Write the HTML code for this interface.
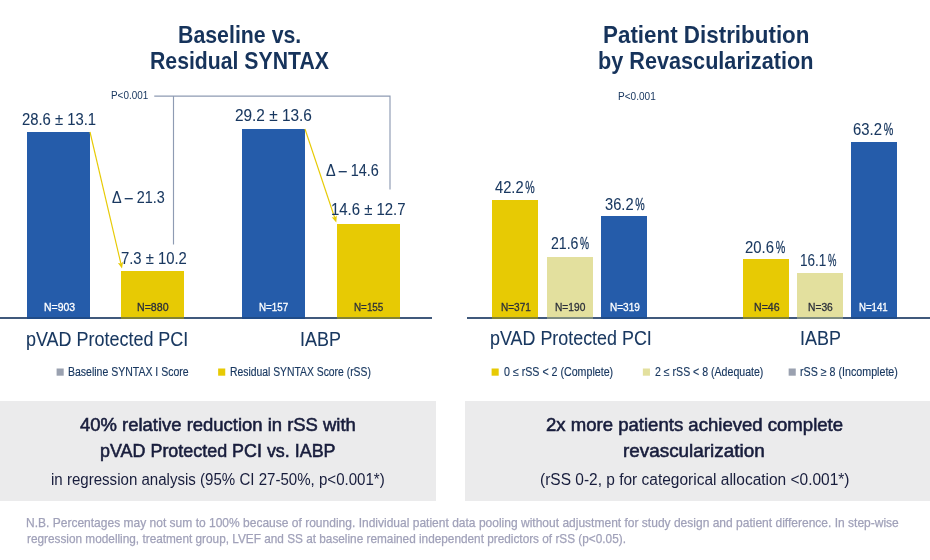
<!DOCTYPE html>
<html lang="en">
<head>
<meta charset="utf-8">
<title>Baseline vs. Residual SYNTAX / Patient Distribution by Revascularization</title>
<style>
html,body{margin:0;padding:0;background:#fff;}
body{width:930px;height:560px;position:relative;overflow:hidden;font-family:"Liberation Sans",Arial,sans-serif;}
.t{position:absolute;white-space:nowrap;line-height:1.117;transform-origin:0 0;margin:0;padding:0;display:block;}
.r{position:absolute;}
.lines{position:absolute;left:0;top:0;}
section,header,footer,figure,ul,li,p,h2{margin:0;padding:0;list-style:none;font-weight:normal;font-size:inherit;line-height:0;}
</style>
</head>
<body>
<header class="L-title">
<h2>
<span class="t" id="t0" style="left:177.91px;top:22.48px;font-size:24px;font-weight:700;color:#16335b;transform:scaleX(0.8885)">Baseline vs.</span>
<span class="t" id="t1" style="left:149.62px;top:48.28px;font-size:24px;font-weight:700;color:#16335b;transform:scaleX(0.8844)">Residual SYNTAX</span>
</h2>
</header>
<figure class="L-chart">
<div class="r axis" style="left:0.00px;top:317.00px;width:432.00px;height:2.00px;background:rgba(27,58,99,0.68)"></div>
<div class="r bar" style="left:27.00px;top:132.00px;width:63.00px;height:187.00px;background:#255caa"></div>
<div class="r bar" style="left:121.00px;top:271.00px;width:63.00px;height:48.00px;background:#e7ca04"></div>
<div class="r bar" style="left:242.00px;top:128.75px;width:63.00px;height:190.25px;background:#255caa"></div>
<div class="r bar" style="left:337.00px;top:223.50px;width:63.00px;height:95.50px;background:#e7ca04"></div>
<div class="r axis" style="left:0.00px;top:317.00px;width:432.00px;height:2.00px;background:rgba(27,58,99,0.5)"></div>
<svg class="lines" width="930" height="560" viewBox="0 0 930 560" aria-hidden="true">
<path d="M154.25 96.15 H390 V189.5 M173.5 96.15 V244.5" fill="none" stroke="#8e9bb3" stroke-width="1.15"/>
<g stroke="#e7ca04" stroke-width="1.15" fill="#e7ca04">
<line x1="90" y1="132" x2="120.9" y2="263.7"/>
<path d="M122 268.6 L117.9 262.9 L120.9 263.4 L123.1 261.7 Z" stroke="none"/>
<line x1="305" y1="129" x2="334.7" y2="217.7"/>
<path d="M336.3 222.5 L331.7 217.2 L334.7 217.4 L336.8 215.4 Z" stroke="none"/>
</g>
</svg>
<p class="t" id="t2" style="left:110.60px;top:90.18px;font-size:10.3px;font-weight:400;color:#193860;transform:scaleX(0.9609)">P&lt;0.001</p>
<p class="t" id="t3" style="left:22.04px;top:110.82px;font-size:16px;font-weight:400;color:#193860;-webkit-text-stroke:0.08px #193860;transform:scaleX(0.9266)">28.6 ± 13.1</p>
<p class="t" id="t4" style="left:111.79px;top:188.82px;font-size:16px;font-weight:400;color:#193860;-webkit-text-stroke:0.08px #193860;transform:scaleX(0.8988)">Δ – 21.3</p>
<p class="t" id="t5" style="left:121.04px;top:249.57px;font-size:16px;font-weight:400;color:#193860;-webkit-text-stroke:0.08px #193860;transform:scaleX(0.9265)">7.3 ± 10.2</p>
<p class="t" id="t6" style="left:235.04px;top:107.07px;font-size:16px;font-weight:400;color:#193860;-webkit-text-stroke:0.08px #193860;transform:scaleX(0.9609)">29.2 ± 13.6</p>
<p class="t" id="t7" style="left:326.29px;top:161.57px;font-size:16px;font-weight:400;color:#193860;-webkit-text-stroke:0.08px #193860;transform:scaleX(0.8988)">Δ – 14.6</p>
<p class="t" id="t8" style="left:330.86px;top:201.32px;font-size:16px;font-weight:400;color:#193860;-webkit-text-stroke:0.08px #193860;transform:scaleX(0.9320)">14.6 ± 12.7</p>
<p class="t" id="t9" style="left:43.89px;top:300.75px;font-size:11px;font-weight:400;color:#ffffff;-webkit-text-stroke:0.30px #ffffff;transform:scaleX(0.9498)">N=903</p>
<p class="t" id="t10" style="left:137.14px;top:300.75px;font-size:11px;font-weight:400;color:#2b2f3a;-webkit-text-stroke:0.30px #2b2f3a;transform:scaleX(0.9650)">N=880</p>
<p class="t" id="t11" style="left:258.88px;top:300.75px;font-size:11px;font-weight:400;color:#ffffff;-webkit-text-stroke:0.30px #ffffff;transform:scaleX(0.8890)">N=157</p>
<p class="t" id="t12" style="left:354.38px;top:300.75px;font-size:11px;font-weight:400;color:#2b2f3a;-webkit-text-stroke:0.30px #2b2f3a;transform:scaleX(0.8966)">N=155</p>
<p class="t" id="t13" style="left:26.16px;top:327.75px;font-size:20.5px;font-weight:400;color:#193860;-webkit-text-stroke:0.08px #193860;transform:scaleX(0.8756)">pVAD Protected PCI</p>
<p class="t" id="t14" style="left:299.66px;top:327.75px;font-size:20.5px;font-weight:400;color:#193860;-webkit-text-stroke:0.08px #193860;transform:scaleX(0.8754)">IABP</p>
</figure>
<ul class="L-legend">
<svg class="r sq" width="9" height="9" style="left:56px;top:368px" aria-hidden="true"><rect x="0.60" y="0.50" width="7.10" height="7.20" fill="#9aa1b0"/></svg>
<svg class="r sq" width="9" height="9" style="left:218px;top:368px" aria-hidden="true"><rect x="0.15" y="0.50" width="7.10" height="7.20" fill="#e7ca04"/></svg>
<li class="t" id="t15" style="left:68.07px;top:366.14px;font-size:12px;font-weight:400;color:#193860;-webkit-text-stroke:0.15px #193860;transform:scaleX(0.8748)">Baseline SYNTAX I Score</li>
<li class="t" id="t16" style="left:230.06px;top:366.14px;font-size:12px;font-weight:400;color:#193860;-webkit-text-stroke:0.15px #193860;transform:scaleX(0.8634)">Residual SYNTAX Score (rSS)</li>
</ul>
<section class="L-box">
<div class="r box" style="left:0.00px;top:401.25px;width:436.00px;height:99.55px;background:#ebebec"></div>
<p>
<span class="t" id="t17" style="left:80.29px;top:416.04px;font-size:17.8px;font-weight:400;color:#181d3c;-webkit-text-stroke:0.55px #181d3c;transform:scaleX(1.0376)">40% relative reduction in rSS with</span>
<span class="t" id="t18" style="left:100.02px;top:442.29px;font-size:17.8px;font-weight:400;color:#181d3c;-webkit-text-stroke:0.55px #181d3c;transform:scaleX(1.0072)">pVAD Protected PCI vs. IABP</span>
<span class="t" id="t19" style="left:51.06px;top:470.77px;font-size:16px;font-weight:400;color:#181d3c;transform:scaleX(0.9417)">in regression analysis (95% CI 27-50%, p&lt;0.001*)</span>
</p>
</section>
<header class="R-title">
<h2>
<span class="t" id="t20" style="left:602.57px;top:22.48px;font-size:24px;font-weight:700;color:#16335b;transform:scaleX(0.9328)">Patient Distribution</span>
<span class="t" id="t21" style="left:597.80px;top:48.28px;font-size:24px;font-weight:700;color:#16335b;transform:scaleX(0.9022)">by Revascularization</span>
</h2>
</header>
<figure class="R-chart">
<div class="r axis" style="left:467.00px;top:317.00px;width:463.00px;height:2.00px;background:rgba(27,58,99,0.68)"></div>
<div class="r bar" style="left:492.00px;top:199.50px;width:46.00px;height:119.50px;background:#e7ca04"></div>
<div class="r bar" style="left:547.00px;top:256.75px;width:46.00px;height:62.25px;background:#e3e09e"></div>
<div class="r bar" style="left:601.25px;top:216.25px;width:46.00px;height:102.75px;background:#255caa"></div>
<div class="r bar" style="left:743.00px;top:259.25px;width:45.75px;height:59.75px;background:#e7ca04"></div>
<div class="r bar" style="left:797.25px;top:272.50px;width:45.75px;height:46.50px;background:#e3e09e"></div>
<div class="r bar" style="left:851.25px;top:142.00px;width:45.75px;height:177.00px;background:#255caa"></div>
<div class="r axis" style="left:467.00px;top:317.00px;width:463.00px;height:2.00px;background:rgba(27,58,99,0.5)"></div>
<p class="t" id="t22" style="left:618.00px;top:90.58px;font-size:10.3px;font-weight:400;color:#193860;transform:scaleX(0.9763)">P&lt;0.001</p>
<p class="t" id="t23" style="left:495.00px;top:178.52px;font-size:16px;font-weight:400;color:#193860;-webkit-text-stroke:0.08px #193860;transform:scaleX(0.9166)">42.2<span style="display:inline-block;transform-origin:0 0;transform:scaleX(0.7233);margin-left:1.83px;width:10.29px;-webkit-text-stroke:0.3px #193860">%</span></p>
<p class="t" id="t24" style="left:550.75px;top:235.27px;font-size:16px;font-weight:400;color:#193860;-webkit-text-stroke:0.08px #193860;transform:scaleX(0.8818)">21.6<span style="display:inline-block;transform-origin:0 0;transform:scaleX(0.7233);margin-left:1.83px;width:10.29px;-webkit-text-stroke:0.3px #193860">%</span></p>
<p class="t" id="t25" style="left:605.00px;top:195.52px;font-size:16px;font-weight:400;color:#193860;-webkit-text-stroke:0.08px #193860;transform:scaleX(0.9166)">36.2<span style="display:inline-block;transform-origin:0 0;transform:scaleX(0.7233);margin-left:1.83px;width:10.29px;-webkit-text-stroke:0.3px #193860">%</span></p>
<p class="t" id="t26" style="left:745.00px;top:238.52px;font-size:16px;font-weight:400;color:#193860;-webkit-text-stroke:0.08px #193860;transform:scaleX(0.9282)">20.6<span style="display:inline-block;transform-origin:0 0;transform:scaleX(0.7233);margin-left:1.83px;width:10.29px;-webkit-text-stroke:0.3px #193860">%</span></p>
<p class="t" id="t27" style="left:800.15px;top:251.52px;font-size:16px;font-weight:400;color:#193860;-webkit-text-stroke:0.08px #193860;transform:scaleX(0.8451)">16.1<span style="display:inline-block;transform-origin:0 0;transform:scaleX(0.7002);margin-left:1.77px;width:9.96px;-webkit-text-stroke:0.3px #193860">%</span></p>
<p class="t" id="t28" style="left:852.50px;top:120.52px;font-size:16px;font-weight:400;color:#193860;-webkit-text-stroke:0.08px #193860;transform:scaleX(0.9282)">63.2<span style="display:inline-block;transform-origin:0 0;transform:scaleX(0.7233);margin-left:1.83px;width:10.29px;-webkit-text-stroke:0.3px #193860">%</span></p>
<p class="t" id="t29" style="left:501.39px;top:300.94px;font-size:11px;font-weight:400;color:#2b2f3a;-webkit-text-stroke:0.30px #2b2f3a;transform:scaleX(0.9118)">N=371</p>
<p class="t" id="t30" style="left:554.64px;top:300.94px;font-size:11px;font-weight:400;color:#2b2f3a;-webkit-text-stroke:0.30px #2b2f3a;transform:scaleX(0.9270)">N=190</p>
<p class="t" id="t31" style="left:609.64px;top:300.94px;font-size:11px;font-weight:400;color:#ffffff;-webkit-text-stroke:0.30px #ffffff;transform:scaleX(0.9118)">N=319</p>
<p class="t" id="t32" style="left:753.64px;top:300.94px;font-size:11px;font-weight:400;color:#2b2f3a;-webkit-text-stroke:0.30px #2b2f3a;transform:scaleX(0.9613)">N=46</p>
<p class="t" id="t33" style="left:808.14px;top:300.94px;font-size:11px;font-weight:400;color:#2b2f3a;-webkit-text-stroke:0.30px #2b2f3a;transform:scaleX(0.9333)">N=36</p>
<p class="t" id="t34" style="left:859.38px;top:300.94px;font-size:11px;font-weight:400;color:#ffffff;-webkit-text-stroke:0.30px #ffffff;transform:scaleX(0.8738)">N=141</p>
<p class="t" id="t35" style="left:490.41px;top:327.45px;font-size:20.5px;font-weight:400;color:#193860;-webkit-text-stroke:0.08px #193860;transform:scaleX(0.8729)">pVAD Protected PCI</p>
<p class="t" id="t36" style="left:800.16px;top:327.45px;font-size:20.5px;font-weight:400;color:#193860;-webkit-text-stroke:0.08px #193860;transform:scaleX(0.8754)">IABP</p>
</figure>
<ul class="R-legend">
<svg class="r sq" width="9" height="9" style="left:491px;top:368px" aria-hidden="true"><rect x="0.60" y="0.50" width="7.10" height="7.20" fill="#e7ca04"/></svg>
<svg class="r sq" width="9" height="9" style="left:642px;top:368px" aria-hidden="true"><rect x="0.85" y="0.50" width="7.10" height="7.20" fill="#e3e09e"/></svg>
<svg class="r sq" width="9" height="9" style="left:788px;top:368px" aria-hidden="true"><rect x="0.65" y="0.50" width="7.10" height="7.20" fill="#9aa1b0"/></svg>
<li class="t" id="t37" style="left:503.82px;top:366.14px;font-size:12px;font-weight:400;color:#193860;-webkit-text-stroke:0.15px #193860;transform:scaleX(0.8874)">0 ≤ rSS &lt; 2 (Complete)</li>
<li class="t" id="t38" style="left:655.07px;top:366.14px;font-size:12px;font-weight:400;color:#193860;-webkit-text-stroke:0.15px #193860;transform:scaleX(0.8811)">2 ≤ rSS &lt; 8 (Adequate)</li>
<li class="t" id="t39" style="left:799.77px;top:366.14px;font-size:12px;font-weight:400;color:#193860;-webkit-text-stroke:0.15px #193860;transform:scaleX(0.8900)">rSS ≥ 8 (Incomplete)</li>
</ul>
<section class="R-box">
<div class="r box" style="left:465.00px;top:401.25px;width:465.00px;height:99.55px;background:#ebebec"></div>
<p>
<span class="t" id="t40" style="left:546.04px;top:416.04px;font-size:17.8px;font-weight:400;color:#181d3c;-webkit-text-stroke:0.55px #181d3c;transform:scaleX(1.0436)">2x more patients achieved complete</span>
<span class="t" id="t41" style="left:623.48px;top:442.29px;font-size:17.8px;font-weight:400;color:#181d3c;-webkit-text-stroke:0.55px #181d3c;transform:scaleX(1.0618)">revascularization</span>
<span class="t" id="t42" style="left:539.53px;top:470.77px;font-size:16px;font-weight:400;color:#181d3c;transform:scaleX(0.9681)">(rSS 0-2, p for categorical allocation &lt;0.001*)</span>
</p>
</section>
<footer class="foot">
<p>
<span class="t" id="t43" style="left:26.09px;top:515.99px;font-size:13px;font-weight:400;color:#a0a1b9;-webkit-text-stroke:0.25px #a0a1b9;transform:scaleX(0.9243)">N.B. Percentages may not sum to 100% because of rounding. Individual patient data pooling without adjustment for study design and patient difference. In step-wise</span>
<span class="t" id="t44" style="left:27.01px;top:531.59px;font-size:13px;font-weight:400;color:#a0a1b9;-webkit-text-stroke:0.25px #a0a1b9;transform:scaleX(0.9076)">regression modelling, treatment group, LVEF and SS at baseline remained independent predictors of rSS (p&lt;0.05).</span>
</p>
</footer>
</body>
</html>
